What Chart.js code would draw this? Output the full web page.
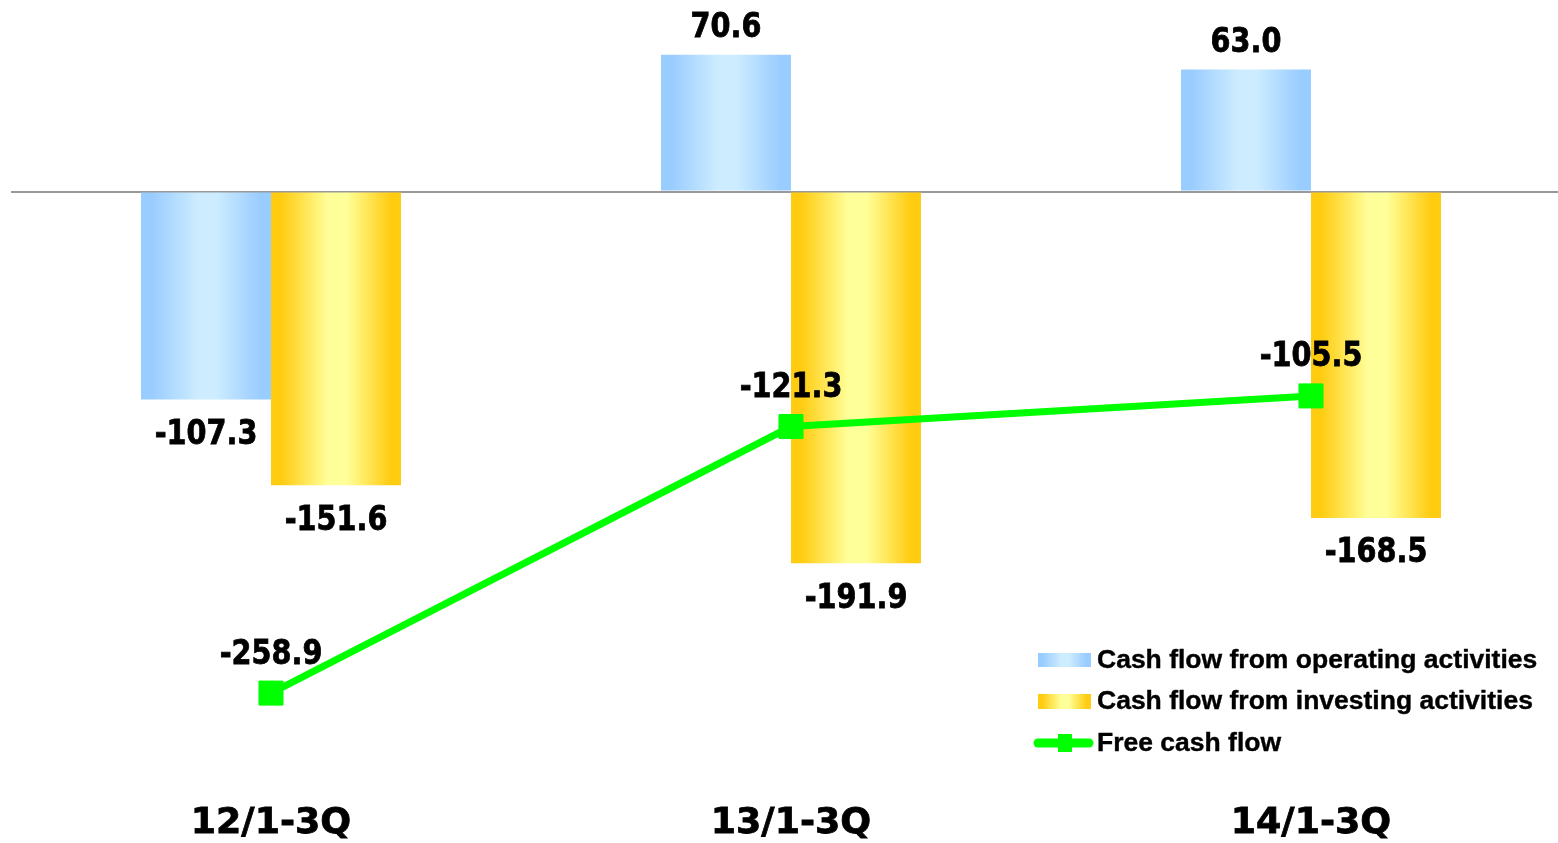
<!DOCTYPE html>
<html>
<head>
<meta charset="utf-8">
<script src="https://cdn.jsdelivr.net/npm/chart.js@4"></script>
<style>
  html, body { margin: 0; padding: 0; background: #fff; overflow: hidden; }
  #wrap { width: 1572px; height: 843px; }
</style>
</head>
<body>
<div id="wrap"><canvas id="cashChart" width="1572" height="843"></canvas></div>
<script>
var categories = ['12/1-3Q', '13/1-3Q', '14/1-3Q'];
var operatingCF = [-107.3, 70.6, 63.0];
var investingCF = [-151.6, -191.9, -168.5];
var freeCF = [-258.9, -121.3, -105.5];
var seriesNames = ['Cash flow from operating activities', 'Cash flow from investing activities', 'Free cash flow'];

var BLUE = ['#99ccff', '#cdecff'];
var GOLD = ['#ffcc11', '#ffff99'];
var GREEN = '#00ff00';
var LABEL_FONT = 'bold 33px "DejaVu Sans"';
var AXIS_FONT = 'bold 36px "DejaVu Sans"';

function shade(g, cols) {
	g.addColorStop(0, cols[0]);
	g.addColorStop(0.08, cols[0]);
	g.addColorStop(0.44, cols[1]);
	g.addColorStop(0.58, cols[1]);
	g.addColorStop(0.92, cols[0]);
	g.addColorStop(1, cols[0]);
	return g;
}

// horizontal gradient across each bar, bar slot worked out from the x scale
function barFill(cols, side) {
	return function(ctx) {
		var chart = ctx.chart;
		if (!chart.chartArea || ctx.dataIndex === undefined) return cols[0];
		var x = chart.scales.x;
		var w = x.width / categories.length * 0.5 / 2;
		var c = x.getPixelForValue(ctx.dataIndex);
		var left = side === 0 ? c - w : c;
		return shade(chart.ctx.createLinearGradient(left, 0, left + w, 0), cols);
	};
}

// heavy text, optionally narrowed horizontally
function heavyText(ctx, text, x, y, font, sx) {
	ctx.save();
	ctx.font = font;
	ctx.translate(x, y);
	ctx.scale(sx, 1);
	ctx.lineWidth = 0.8;
	ctx.strokeStyle = '#000';
	ctx.fillText(text, 0, 0);
	ctx.strokeText(text, 0, 0);
	ctx.restore();
}

var labelsPlugin = {
	id: 'valueLabels',
	afterDatasetsDraw: function(chart) {
		var ctx = chart.ctx;
		ctx.save();
		ctx.fillStyle = '#000';
		ctx.textAlign = 'center';
		ctx.textBaseline = 'alphabetic';
		chart.data.datasets.forEach(function(ds, di) {
			var meta = chart.getDatasetMeta(di);
			meta.data.forEach(function(el, i) {
				var v = ds.data[i];
				var y;
				if (ds.type === 'line') y = el.y - 29.5;
				else y = v >= 0 ? el.y - 17.7 : el.y + 44.5;
				heavyText(ctx, v.toFixed(1), el.x, y, LABEL_FONT, 0.87);
			});
		});
		// category names under the plot
		var xs = chart.scales.x;
		categories.forEach(function(c, i) {
			heavyText(ctx, c, xs.getPixelForValue(i), 833, AXIS_FONT, 1.01);
		});

		// legend, lower right
		var lx = 1038, tx = 1097;
		ctx.textAlign = 'left';
		ctx.font = 'bold 26.5px "Liberation Sans"';
		ctx.fillStyle = shade(ctx.createLinearGradient(lx, 0, lx + 53, 0), BLUE);
		ctx.fillRect(lx, 653, 53, 14);
		ctx.fillStyle = shade(ctx.createLinearGradient(lx, 0, lx + 53, 0), GOLD);
		ctx.fillRect(lx, 694, 53, 15);
		ctx.strokeStyle = GREEN;
		ctx.lineWidth = 9;
		ctx.lineCap = 'round';
		ctx.beginPath();
		ctx.moveTo(1038, 743);
		ctx.lineTo(1089, 743);
		ctx.stroke();
		ctx.fillStyle = GREEN;
		ctx.fillRect(1058, 734, 14, 18);
		ctx.fillStyle = '#000';
		ctx.strokeStyle = '#000';
		ctx.lineWidth = 0.4;
		seriesNames.forEach(function(name, i) {
			var by = [668, 709, 751][i];
			ctx.fillText(name, tx, by);
			ctx.strokeText(name, tx, by);
		});
		ctx.restore();
	}
};

new Chart(document.getElementById('cashChart'), {
	type: 'bar',
	data: {
		labels: categories,
		datasets: [{
			type: 'line',
			label: seriesNames[2],
			data: freeCF,
			borderColor: GREEN,
			backgroundColor: GREEN,
			borderWidth: 7,
			pointStyle: 'rect',
			pointRadius: 17,
			pointBorderWidth: 1,
			pointHoverRadius: 17,
			tension: 0,
			order: 0
		}, {
			label: seriesNames[0],
			data: operatingCF,
			backgroundColor: barFill(BLUE, 0),
			borderWidth: 0,
			barPercentage: 1,
			categoryPercentage: 0.5,
			order: 1
		}, {
			label: seriesNames[1],
			data: investingCF,
			backgroundColor: barFill(GOLD, 1),
			borderWidth: 0,
			barPercentage: 1,
			categoryPercentage: 0.5,
			order: 1
		}]
	},
	options: {
		responsive: false,
		animation: false,
		devicePixelRatio: 1,
		layout: { autoPadding: false, padding: { left: 11, right: 1, top: 0, bottom: 0 } },
		plugins: {
			legend: { display: false },
			tooltip: { enabled: false }
		},
		scales: {
			x: { display: false },
			y: {
				min: -336.3,
				max: 98.9,
				ticks: { display: false, stepSize: 50 },
				border: { display: false },
				grid: {
					drawTicks: false,
					lineWidth: 2,
					color: function(c) { return c.tick && c.tick.value === 0 ? '#999999' : 'transparent'; }
				}
			}
		}
	},
	plugins: [labelsPlugin]
});
</script>
</body>
</html>
